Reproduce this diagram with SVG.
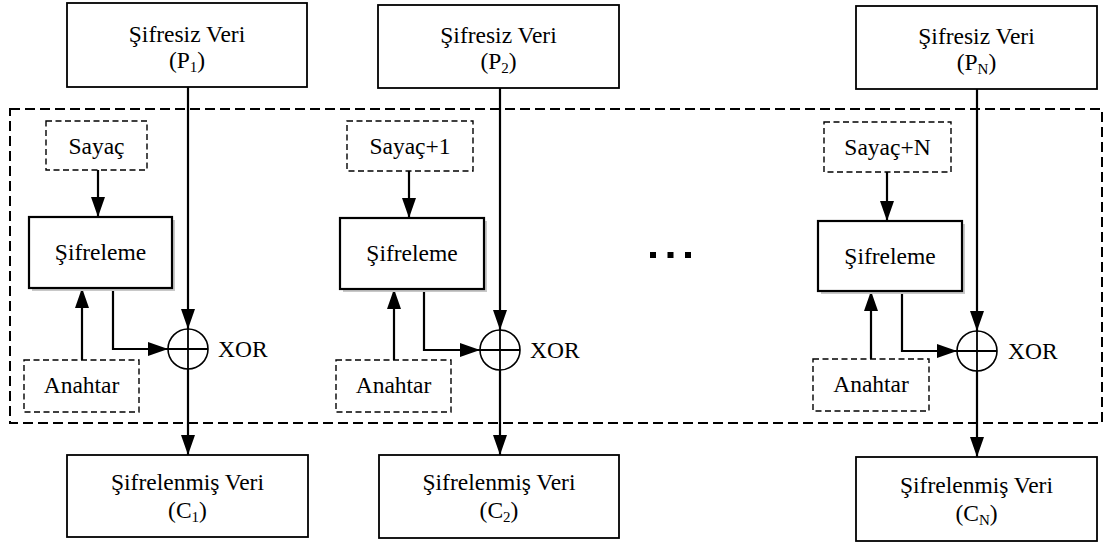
<svg xmlns="http://www.w3.org/2000/svg" width="1105" height="545" viewBox="0 0 1105 545">
  <style>
    text { font-family: "Liberation Serif", "DejaVu Serif", serif; font-size: 23.5px; fill: #000; text-anchor: middle; }
    .sub { font-size: 15px; }
    .box { fill: #fff; stroke: #000; stroke-width: 1.8; }
    .enc { fill: #fff; stroke: #000; stroke-width: 2.2; }
    .shadow { fill: #c8c8c8; }
    .dbox { fill: #fff; stroke: #000; stroke-width: 1.4; stroke-dasharray: 6 3.5; }
    .frame { fill: none; stroke: #000; stroke-width: 2; stroke-dasharray: 10 5; }
    .wire { fill: none; stroke: #000; stroke-width: 1.8; }
    .arrow { fill: none; stroke: #000; stroke-width: 2.2; marker-end: url(#head); }
    .xor { fill: #fff; stroke: #000; stroke-width: 1.6; }
    .xl { text-anchor: start; }
  </style>
  <defs>
    <marker id="head" markerUnits="userSpaceOnUse" markerWidth="22" markerHeight="16" refX="20" refY="7" orient="auto">
      <path d="M0,0 L20,7 L0,14 z" fill="#000"/>
    </marker>
  </defs>

  <!-- counter-mode frame -->
  <rect id="ctr-frame" class="frame" x="10" y="109" width="1092" height="314"/>

  <!-- connectors -->
  <g id="connectors">
    <!-- block 1 -->
    <path class="arrow" d="M188,87 V329"/>
    <path class="arrow" d="M98,170 V217"/>
    <path class="arrow" d="M82,360 V288"/>
    <path class="arrow" d="M113,288 V349 H168"/>
    <path class="arrow" d="M188,369 V455"/>
    <!-- block 2 -->
    <path class="arrow" d="M500,88 V330"/>
    <path class="arrow" d="M409,171 V218"/>
    <path class="arrow" d="M394,360 V289"/>
    <path class="arrow" d="M424,289 V350 H480"/>
    <path class="arrow" d="M500,370 V455"/>
    <!-- block N -->
    <path class="arrow" d="M977,89 V331"/>
    <path class="arrow" d="M887,172 V221"/>
    <path class="arrow" d="M871,359 V291"/>
    <path class="arrow" d="M902,291 V351 H957"/>
    <path class="arrow" d="M977,371 V457"/>
  </g>

  <!-- block 1 -->
  <g id="p1">
    <rect class="box" x="67" y="3" width="240" height="84"/>
    <text x="187" y="42">Şifresiz Veri</text>
    <text x="187" y="68">(P<tspan class="sub" dy="4">1</tspan><tspan dy="-4">)</tspan></text>
  </g>
  <g id="sayac1">
    <rect class="dbox" x="46" y="121" width="101" height="49"/>
    <text x="96.5" y="154">Sayaç</text>
  </g>
  <g id="sifreleme1">
    <rect class="shadow" x="32" y="220" width="143" height="71"/>
    <rect class="enc" x="29" y="217" width="143" height="71"/>
    <text x="100.5" y="260">Şifreleme</text>
  </g>
  <g id="anahtar1">
    <rect class="dbox" x="24" y="360" width="115" height="52"/>
    <text x="81.5" y="393">Anahtar</text>
  </g>
  <g id="xor1">
    <circle class="xor" cx="188" cy="349" r="20"/>
    <path class="wire" d="M168,349 H208 M188,329 V369"/>
    <text class="xl" x="218" y="357">XOR</text>
  </g>
  <g id="c1">
    <rect class="box" x="67" y="455" width="241" height="82"/>
    <text x="187.5" y="490">Şifrelenmiş Veri</text>
    <text x="187.5" y="518">(C<tspan class="sub" dy="4">1</tspan><tspan dy="-4">)</tspan></text>
  </g>

  <!-- block 2 -->
  <g id="p2">
    <rect class="box" x="378" y="5" width="241" height="83"/>
    <text x="498.5" y="43">Şifresiz Veri</text>
    <text x="498.5" y="69">(P<tspan class="sub" dy="4">2</tspan><tspan dy="-4">)</tspan></text>
  </g>
  <g id="sayac2">
    <rect class="dbox" x="347" y="121" width="126" height="50"/>
    <text x="410" y="154">Sayaç+1</text>
  </g>
  <g id="sifreleme2">
    <rect class="shadow" x="343" y="221" width="144" height="71"/>
    <rect class="enc" x="340" y="218" width="144" height="71"/>
    <text x="412" y="261">Şifreleme</text>
  </g>
  <g id="anahtar2">
    <rect class="dbox" x="336" y="360" width="115" height="52"/>
    <text x="393.5" y="393">Anahtar</text>
  </g>
  <g id="xor2">
    <circle class="xor" cx="500" cy="350" r="20"/>
    <path class="wire" d="M480,350 H520 M500,330 V370"/>
    <text class="xl" x="530" y="358">XOR</text>
  </g>
  <g id="c2">
    <rect class="box" x="379" y="455" width="240" height="83"/>
    <text x="499" y="490">Şifrelenmiş Veri</text>
    <text x="499" y="518">(C<tspan class="sub" dy="4">2</tspan><tspan dy="-4">)</tspan></text>
  </g>

  <!-- ellipsis between block 2 and block N -->
  <g id="ellipsis">
    <rect x="650" y="252" width="6" height="6"/>
    <rect x="667.5" y="252" width="6" height="6"/>
    <rect x="685" y="252" width="6" height="6"/>
  </g>

  <!-- block N -->
  <g id="pN">
    <rect class="box" x="856" y="6" width="241" height="83"/>
    <text x="976.5" y="44">Şifresiz Veri</text>
    <text x="976.5" y="70">(P<tspan class="sub" dy="4">N</tspan><tspan dy="-4">)</tspan></text>
  </g>
  <g id="sayacN">
    <rect class="dbox" x="824" y="122" width="127" height="50"/>
    <text x="887.5" y="155">Sayaç+N</text>
  </g>
  <g id="sifrelemeN">
    <rect class="shadow" x="821" y="224" width="144" height="70"/>
    <rect class="enc" x="818" y="221" width="144" height="70"/>
    <text x="890" y="264">Şifreleme</text>
  </g>
  <g id="anahtarN">
    <rect class="dbox" x="813" y="359" width="116" height="52"/>
    <text x="871" y="392">Anahtar</text>
  </g>
  <g id="xorN">
    <circle class="xor" cx="977" cy="351" r="20"/>
    <path class="wire" d="M957,351 H997 M977,331 V371"/>
    <text class="xl" x="1008" y="359">XOR</text>
  </g>
  <g id="cN">
    <rect class="box" x="856" y="457" width="241" height="84"/>
    <text x="976.5" y="493">Şifrelenmiş Veri</text>
    <text x="976.5" y="521">(C<tspan class="sub" dy="4">N</tspan><tspan dy="-4">)</tspan></text>
  </g>
</svg>
